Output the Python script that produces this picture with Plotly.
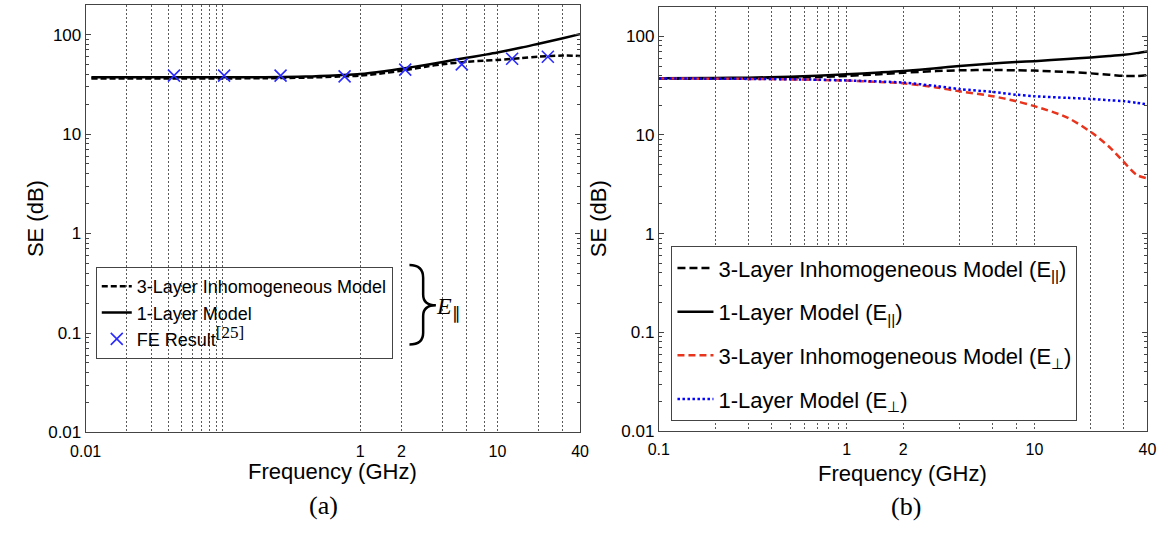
import plotly.graph_objects as go
import math

W, H = 1176, 536

# ---------------- Panel (a) data ----------------
freq_a = [0.011, 0.02, 0.05, 0.1, 0.2, 0.4, 0.7, 1, 1.5, 2, 3, 4, 6, 8, 10, 15, 20, 30, 40]
se_a_3layer = [36.2, 36.2, 36.2, 36.2, 36.4, 36.9, 37.8, 38.6, 41.0, 43.3, 47.5, 50.4, 53.2, 54.6, 55.5, 58.0, 59.9, 61.5, 60.8]
se_a_1layer = [37.2, 37.2, 37.2, 37.2, 37.3, 37.8, 39.0, 40.1, 42.8, 45.3, 49.5, 53.0, 58.5, 62.5, 66.0, 74.0, 81.0, 92.0, 101.0]
fe_freq = [0.044, 0.102, 0.263, 0.77, 2.13, 5.5, 12.8, 23.3]
fe_se = [38.6, 38.6, 38.6, 38.0, 44.4, 50.2, 57.2, 59.8]

# ---------------- Panel (b) data ----------------
freq_b = [0.1, 0.2, 0.3, 0.5, 0.7, 1, 1.5, 2, 3, 4, 6, 8, 10, 15, 20, 25, 30, 35, 40]
se_b_3layer_par = [37.2, 37.3, 37.5, 38.0, 38.6, 39.7, 41.3, 42.8, 44.4, 45.2, 45.5, 45.3, 44.9, 43.5, 42.1, 40.8, 39.7, 39.6, 40.5]
se_b_1layer_par = [37.6, 37.8, 38.1, 38.9, 39.8, 41.2, 43.0, 44.5, 47.5, 50.0, 53.0, 54.8, 56.0, 58.8, 61.0, 63.0, 65.0, 67.5, 70.3]
se_b_3layer_perp = [37.3, 37.2, 37.0, 36.6, 36.2, 35.6, 34.5, 33.4, 30.3, 27.7, 24.7, 22.0, 19.6, 15.0, 10.7, 7.6, 5.3, 3.95, 3.64]
se_b_1layer_perp = [37.3, 37.2, 37.0, 36.7, 36.3, 35.7, 34.8, 34.0, 31.3, 29.2, 27.3, 25.6, 24.7, 23.8, 23.2, 22.5, 22.0, 21.2, 20.4]

# ---------------- Axis ticks ----------------
xlabel_vals_a = [0.01, 1, 2, 10, 40]
xlabel_text_a = ["0.01", "1", "2", "10", "40"]
xgrid_minor_a = [0.02, 0.03, 0.04, 0.05, 0.06, 0.07, 0.08, 0.09, 0.1, 4, 6, 8, 20, 30]
xlabel_vals_b = [0.1, 1, 2, 10, 40]
xlabel_text_b = ["0.1", "1", "2", "10", "40"]
xgrid_minor_b = [0.2, 0.3, 0.4, 0.5, 0.6, 0.7, 0.8, 0.9, 4, 6, 8, 20, 30]
ytick_vals = [0.01, 0.1, 1, 10, 100]
ytick_text = ["0.01", "0.1", "1", "10", "100"]
y_max = 200

SANS = "Liberation Sans, Arial, sans-serif"
SERIF = "Liberation Serif, Times New Roman, serif"
AX = "#444444"
GRID = "#5a5a5a"


def px(x):
    return x / W


def py(y):
    return 1 - y / H


minor_y = [m * 10 ** e for e in range(-2, 3) for m in range(2, 10) if m * 10 ** e <= y_max]

fig = go.Figure()

# Panel (a) traces
fig.add_trace(go.Scatter(x=freq_a, y=se_a_3layer, mode="lines", name="3-Layer Inhomogeneous Model",
                         line=dict(color="black", width=2.5, dash="6px,3px", shape="spline", smoothing=0.8),
                         xaxis="x", yaxis="y", legend="legend"))
fig.add_trace(go.Scatter(x=freq_a, y=se_a_1layer, mode="lines", name="1-Layer Model",
                         line=dict(color="black", width=2.5, shape="spline", smoothing=0.8),
                         xaxis="x", yaxis="y", legend="legend"))
fig.add_trace(go.Scatter(x=fe_freq, y=fe_se, mode="markers",
                         name="FE Result<sup><span style=\"font-family:Liberation Serif;font-size:17px\">[25]</span></sup>",
                         marker=dict(symbol="x-thin", size=12, color="#2b2bff",
                                     line=dict(color="#2b2bff", width=1.6)),
                         xaxis="x", yaxis="y", legend="legend"))

# Panel (b) traces
fig.add_trace(go.Scatter(x=freq_b, y=se_b_3layer_par, mode="lines", name="3-Layer Inhomogeneous Model (E<sub>||</sub>)",
                         line=dict(color="black", width=2.5, dash="8px,4px", shape="spline", smoothing=0.8),
                         xaxis="x2", yaxis="y2", legend="legend2", legendgroup="g1"))
fig.add_trace(go.Scatter(x=freq_b, y=se_b_1layer_par, mode="lines", name="1-Layer Model (E<sub>||</sub>)",
                         line=dict(color="black", width=2.5, shape="spline", smoothing=0.8),
                         xaxis="x2", yaxis="y2", legend="legend2", legendgroup="g2"))
fig.add_trace(go.Scatter(x=freq_b, y=se_b_3layer_perp, mode="lines", name="3-Layer Inhomogeneous Model (E<sub>⊥</sub>)",
                         line=dict(color="#e8341c", width=2.5, dash="7px,4px", shape="spline", smoothing=0.8),
                         xaxis="x2", yaxis="y2", legend="legend2", legendgroup="g3"))
fig.add_trace(go.Scatter(x=freq_b, y=se_b_1layer_perp, mode="lines", name="1-Layer Model (E<sub>⊥</sub>)",
                         line=dict(color="#0000ff", width=2.5, dash="2.5px,2.5px", shape="spline", smoothing=0.8),
                         xaxis="x2", yaxis="y2", legend="legend2", legendgroup="g4"))


def xaxis_cfg(vals, texts, grid_minor, lo, hi, domain):
    return dict(type="log", range=[math.log10(lo), math.log10(hi)], domain=domain,
                tickmode="array", tickvals=vals, ticktext=texts,
                showgrid=True, gridcolor=GRID, griddash="2px,2px", gridwidth=1,
                minor=dict(tickmode="array", tickvals=grid_minor, ticks="", showgrid=True,
                           gridcolor=GRID, griddash="2px,2px", gridwidth=1),
                ticks="", showline=True, linecolor=AX, linewidth=1, mirror=True,
                ticklabelstandoff=4,
                tickfont=dict(family=SANS, size=16, color="black"), zeroline=False)


def yaxis_cfg(domain, anchor):
    return dict(type="log", range=[-2, math.log10(y_max)], domain=domain, anchor=anchor,
                tickmode="array", tickvals=ytick_vals, ticktext=ytick_text,
                ticks="inside", ticklen=5, tickcolor=AX, showgrid=False,
                minor=dict(tickmode="array", tickvals=minor_y, ticks="inside", ticklen=3, tickcolor=AX, showgrid=False),
                showline=True, linecolor=AX, linewidth=1, mirror="ticks",
                tickfont=dict(family=SANS, size=17, color="black"), zeroline=False)


fig.update_layout(
    width=W, height=H, autosize=False,
    margin=dict(l=0, r=0, t=0, b=0),
    paper_bgcolor="white", plot_bgcolor="white",
    xaxis=dict(**xaxis_cfg(xlabel_vals_a, xlabel_text_a, xgrid_minor_a, 0.01, 40, [px(71.2), px(576.3)]), anchor="y"),
    yaxis=yaxis_cfg([py(440.7), py(4.7)], "x"),
    xaxis2=dict(**xaxis_cfg(xlabel_vals_b, xlabel_text_b, xgrid_minor_b, 0.1, 40, [px(656.8), px(1156)]), anchor="y2"),
    yaxis2=yaxis_cfg([py(439.3), py(6.7)], "x2"),
    showlegend=True,
    legend=dict(x=px(81.5), y=py(272), xanchor="left", yanchor="top",
                bgcolor="rgba(0,0,0,0)", bordercolor=AX, borderwidth=1,
                font=dict(family=SANS, size=18, color="black"), itemwidth=30,
                tracegroupgap=0),
    legend2=dict(x=px(669.7), y=py(251), xanchor="left", yanchor="top",
                 bgcolor="white", bordercolor=AX, borderwidth=1,
                 font=dict(family=SANS, size=22, color="black"), itemwidth=36,
                 tracegroupgap=12),
)

annotations = [
    dict(text="Frequency (GHz)", x=px(323.7), y=py(480), xref="paper", yref="paper",
         showarrow=False, font=dict(family=SANS, size=22, color="black"), xanchor="center", yanchor="middle"),
    dict(text="Frequency (GHz)", x=px(906), y=py(482), xref="paper", yref="paper",
         showarrow=False, font=dict(family=SANS, size=22, color="black"), xanchor="center", yanchor="middle"),
    dict(text="SE (dB)", x=px(20), y=py(222.7), xref="paper", yref="paper", textangle=-90,
         showarrow=False, font=dict(family=SANS, size=22, color="black"), xanchor="center", yanchor="middle"),
    dict(text="SE (dB)", x=px(596), y=py(223), xref="paper", yref="paper", textangle=-90,
         showarrow=False, font=dict(family=SANS, size=22, color="black"), xanchor="center", yanchor="middle"),
    dict(text="(a)", x=px(314), y=py(515), xref="paper", yref="paper",
         showarrow=False, font=dict(family=SERIF, size=26, color="black"), xanchor="center", yanchor="middle"),
    dict(text="(b)", x=px(909.6), y=py(516), xref="paper", yref="paper",
         showarrow=False, font=dict(family=SERIF, size=26, color="black"), xanchor="center", yanchor="middle"),
    dict(text="<i>E</i><sub>∥</sub>", x=px(427), y=py(314), xref="paper", yref="paper",
         showarrow=False, font=dict(family=SERIF, size=24, color="black"), xanchor="left", yanchor="middle"),
]
fig.update_layout(annotations=annotations)

# curly brace next to legend (a)
pts = [(402, 270), (416, 270), (416, 283), (416, 300), (416, 311), (429, 311), (416, 311), (416, 322),
       (416, 339), (416, 351), (402, 351)]
P = [f"{px(x):.5f},{py(y):.5f}" for x, y in pts]
path = (f"M {P[0]} Q {P[1]} {P[2]} L {P[3]} Q {P[4]} {P[5]} Q {P[6]} {P[7]} L {P[8]} Q {P[9]} {P[10]}")
fig.add_shape(type="path", path=path, xref="paper", yref="paper", line=dict(color="black", width=2.5))

fig.write_html("out.html")
